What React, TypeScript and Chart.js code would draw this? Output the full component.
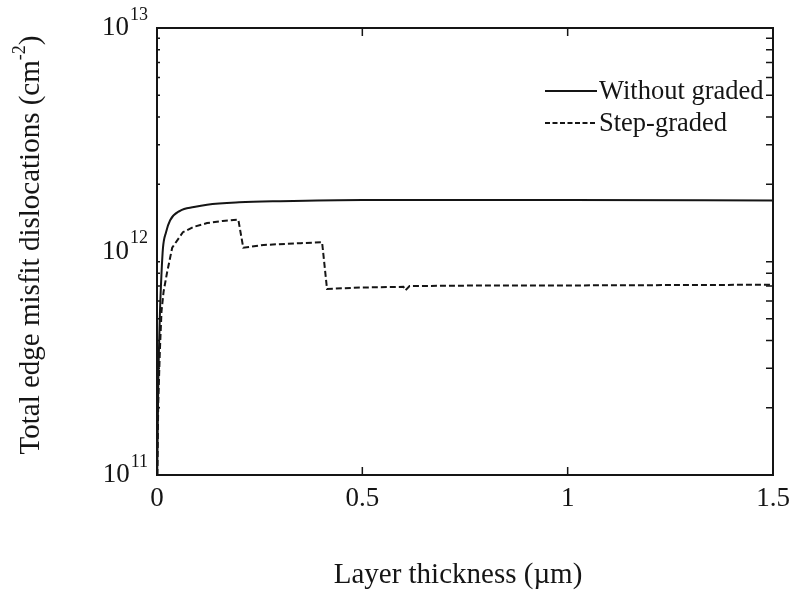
import React, { useEffect, useRef } from "react";
import { Chart, registerables } from "chart.js";

Chart.register(...registerables);

// ---- data ----
const withoutX = [0.0005, 0.003, 0.0073, 0.011, 0.0146, 0.022, 0.032, 0.056, 0.09, 0.122, 0.2, 0.3, 0.5, 1.0, 1.5];
const withoutY = [1.0e11, 2.5e11, 5.4e11, 8.0e11, 1.04e12, 1.22e12, 1.38e12, 1.52e12, 1.58e12, 1.62e12, 1.66e12, 1.68e12, 1.7e12, 1.7e12, 1.69e12];

const stepX = [0.001, 0.003, 0.007, 0.011, 0.016, 0.024, 0.037, 0.063, 0.09, 0.122, 0.16, 0.198, 0.21, 0.26, 0.35, 0.402, 0.414, 0.5, 0.6, 0.605, 0.615, 0.8, 1.0, 1.5];
const stepY = [1.0e11, 2.1e11, 3.6e11, 5.4e11, 6.6e11, 7.96e11, 1.04e12, 1.22e12, 1.29e12, 1.34e12, 1.37e12, 1.39e12, 1.04e12, 1.07e12, 1.09e12, 1.1e12, 6.8e11, 6.9e11, 6.95e11, 6.7e11, 7.0e11, 7.05e11, 7.05e11, 7.1e11];

const seriesNames = ["Without graded", "Step-graded"];
const xTickValues = [0, 0.5, 1, 1.5];
const xTickLabels = ["0", "0.5", "1", "1.5"];
const yDecades = [1e11, 1e12, 1e13];
const yDecadeExps = ["11", "12", "13"];
const xTitle = "Layer thickness (\u00b5m)";
const yTitleMain = "Total edge misfit dislocations (cm";
const yTitleSup = "-2";
const yTitleEnd = ")";

const FONT = '"Liberation Serif", "Times New Roman", serif';
const INK = "#151515";

const overlay = {
  id: "overlay",
  afterDraw(chart: any) {
    const { ctx, chartArea: a } = chart;
    const x = chart.scales.x;
    const y = chart.scales.y;
    ctx.save();
    ctx.strokeStyle = INK;
    ctx.fillStyle = INK;
    ctx.lineWidth = 2;
    ctx.strokeRect(a.left, a.top, a.right - a.left, a.bottom - a.top);

    // inward x ticks, top and bottom
    ctx.lineWidth = 1.5;
    xTickValues.forEach((v) => {
      const px = x.getPixelForValue(v);
      ctx.beginPath();
      ctx.moveTo(px, a.bottom);
      ctx.lineTo(px, a.bottom - 8);
      ctx.moveTo(px, a.top);
      ctx.lineTo(px, a.top + 8);
      ctx.stroke();
    });
    // minor log ticks
    yDecades.slice(0, 2).forEach((d) => {
      for (let m = 2; m <= 9; m++) {
        const py = y.getPixelForValue(m * d);
        ctx.beginPath();
        ctx.moveTo(a.right, py);
        ctx.lineTo(a.right - 7, py);
        ctx.moveTo(a.left, py);
        ctx.lineTo(a.left + 3, py);
        ctx.stroke();
      }
    });

    // y tick labels 10^n
    const rightEdge = 148;
    yDecades.forEach((d, i) => {
      const py = y.getPixelForValue(d);
      ctx.font = `18px ${FONT}`;
      const sw = ctx.measureText(yDecadeExps[i]).width;
      ctx.textAlign = "left";
      ctx.textBaseline = "middle";
      ctx.fillText(yDecadeExps[i], rightEdge - sw, py - 13);
      ctx.font = `27px ${FONT}`;
      ctx.textAlign = "right";
      ctx.fillText("10", rightEdge - sw - 1, py);
    });

    // x tick labels
    ctx.font = `27px ${FONT}`;
    ctx.textAlign = "center";
    ctx.textBaseline = "middle";
    xTickValues.forEach((v, i) => {
      ctx.fillText(xTickLabels[i], x.getPixelForValue(v), 499);
    });

    // x title
    ctx.font = `29px ${FONT}`;
    ctx.fillText(xTitle, 458, 575);

    // y title rotated
    ctx.save();
    ctx.translate(31, 245);
    ctx.rotate(-Math.PI / 2);
    ctx.font = `29px ${FONT}`;
    const w1 = ctx.measureText(yTitleMain).width;
    ctx.font = `18px ${FONT}`;
    const w2 = ctx.measureText(yTitleSup).width;
    ctx.font = `29px ${FONT}`;
    const w3 = ctx.measureText(yTitleEnd).width;
    let sx = -(w1 + w2 + w3) / 2;
    ctx.textAlign = "left";
    ctx.textBaseline = "middle";
    ctx.fillText(yTitleMain, sx, 0);
    sx += w1;
    ctx.font = `18px ${FONT}`;
    ctx.fillText(yTitleSup, sx, -11);
    sx += w2;
    ctx.font = `29px ${FONT}`;
    ctx.fillText(yTitleEnd, sx, 0);
    ctx.restore();

    // legend
    const legY = [91, 123];
    chart.data.datasets.forEach((ds: any, i: number) => {
      ctx.beginPath();
      ctx.lineWidth = 2;
      ctx.setLineDash(i === 0 ? [] : [5, 2.5]);
      ctx.moveTo(545, legY[i]);
      ctx.lineTo(597, legY[i]);
      ctx.stroke();
      ctx.setLineDash([]);
      ctx.font = `26.5px ${FONT}`;
      ctx.textAlign = "left";
      ctx.textBaseline = "middle";
      ctx.fillText(seriesNames[i], 599, legY[i] + 1);
    });
    ctx.restore();
  },
};

export default function App() {
  const ref = useRef<HTMLCanvasElement | null>(null);
  useEffect(() => {
    if (!ref.current) return;
    const chart = new Chart(ref.current, {
      type: "line",
      data: {
        datasets: [
          {
            label: seriesNames[0],
            data: withoutX.map((v, i) => ({ x: v, y: withoutY[i] })),
            borderColor: INK,
            borderWidth: 2,
            pointRadius: 0,
            cubicInterpolationMode: "monotone",
            fill: false,
          },
          {
            label: seriesNames[1],
            data: stepX.map((v, i) => ({ x: v, y: stepY[i] })),
            borderColor: INK,
            borderWidth: 2,
            borderDash: [6, 3],
            pointRadius: 0,
            tension: 0,
            fill: false,
          },
        ],
      },
      options: {
        animation: false,
        responsive: false,
        layout: { padding: { left: 0, right: 23, top: 28, bottom: 0 } },
        plugins: { legend: { display: false }, tooltip: { enabled: false } },
        scales: {
          x: {
            type: "linear",
            min: 0,
            max: 1.5,
            grid: { display: false },
            border: { display: false },
            ticks: { display: false },
            afterFit: (s: any) => {
              s.height = 122;
            },
          },
          y: {
            type: "logarithmic",
            min: 1e11,
            max: 1e13,
            grid: { display: false },
            border: { display: false },
            ticks: { display: false },
            afterFit: (s: any) => {
              s.width = 157;
            },
          },
        },
      },
      plugins: [overlay],
    });
    return () => chart.destroy();
  }, []);
  return (
    <div style={{ position: "absolute", left: 0, top: 0, width: 796, height: 597, background: "#fff" }}>
      <canvas ref={ref} width={796} height={597} />
    </div>
  );
}
